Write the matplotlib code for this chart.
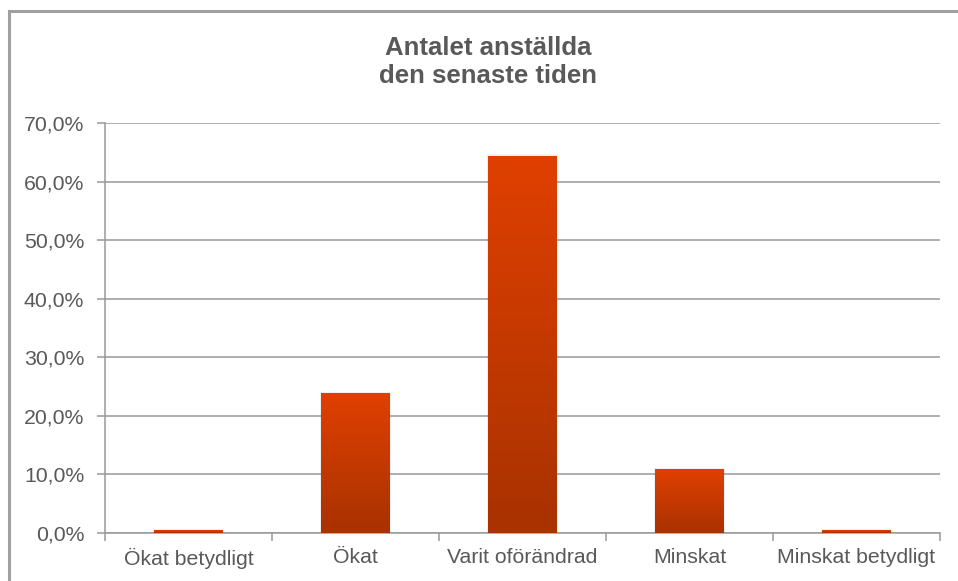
import numpy as np
import matplotlib.pyplot as plt
from matplotlib.patches import Rectangle
from matplotlib.ticker import FuncFormatter, FixedLocator
from matplotlib.colors import LinearSegmentedColormap

categories = ["Ökat betydligt", "Ökat", "Varit oförändrad", "Minskat", "Minskat betydligt"]
values = [0.5, 23.9, 64.4, 10.9, 0.5]
title = "Antalet anställda\nden senaste tiden"

plt.rcParams['font.family'] = ['Liberation Sans', 'DejaVu Sans']

fig = plt.figure(figsize=(9.58, 5.81), dpi=100)
# outer chart border (runs off the right and bottom edge like the reference)
fig.patches.append(Rectangle((8.5 / 958, -0.1), 1.2, 1.1 - 10.5 / 581, transform=fig.transFigure,
                             fill=False, edgecolor='#a0a0a0', linewidth=2.2))

ax = fig.add_axes([105 / 958, 1 - 533 / 581, 835 / 958, 410 / 581])
x = np.arange(len(categories))
width = 0.41
grey = '#999999'

grad = LinearSegmentedColormap.from_list('bar', ['#a83200', '#e04000'])
bars = ax.bar(x, values, width, color='none', zorder=3)
for b in bars:
    x0, y0 = b.get_x(), b.get_y()
    w, h = b.get_width(), b.get_height()
    # faint shadow
    ax.add_patch(Rectangle((x0 - 0.01, y0), w + 0.02, h + 0.25, facecolor='#000000',
                           alpha=0.06, edgecolor='none', zorder=2))
    img = ax.imshow(np.linspace(0, 1, 256).reshape(-1, 1), cmap=grad, aspect='auto',
                    origin='lower', extent=[x0, x0 + w, y0, y0 + h], zorder=3)
    img.set_clip_path(b)

ax.set_xlim(-0.5, len(categories) - 0.5)
ax.set_ylim(0, 70)
ax.yaxis.set_major_locator(FixedLocator(np.arange(0, 71, 10)))
ax.yaxis.set_major_formatter(FuncFormatter(lambda v, p: f"{v:.1f}%".replace('.', ',')))
ax.grid(axis='y', color=grey, linewidth=1.1, zorder=1)

ax.set_xticks(np.arange(-0.5, len(categories), 1))
ax.set_xticklabels([])
ax.set_xticks(x, minor=True)
ax.set_xticklabels(categories, minor=True)
ax.tick_params(axis='x', which='minor', length=0, pad=11, labelsize=15.3, labelcolor='#595959')
ax.tick_params(axis='x', which='major', length=6, color=grey, width=1.1)
ax.tick_params(axis='y', length=6, color=grey, width=1.1, pad=9, labelsize=15.3, labelcolor='#595959')

for s in ['top', 'right']:
    ax.spines[s].set_visible(False)
for s in ['left', 'bottom']:
    ax.spines[s].set_color(grey)
    ax.spines[s].set_linewidth(1.1)

fig.text(488 / 958, 1 - 62 / 581, title, ha='center', va='center', fontsize=18.5,
         fontweight='bold', color='#595959', linespacing=1.25)

fig.savefig('out.png', dpi=100)
